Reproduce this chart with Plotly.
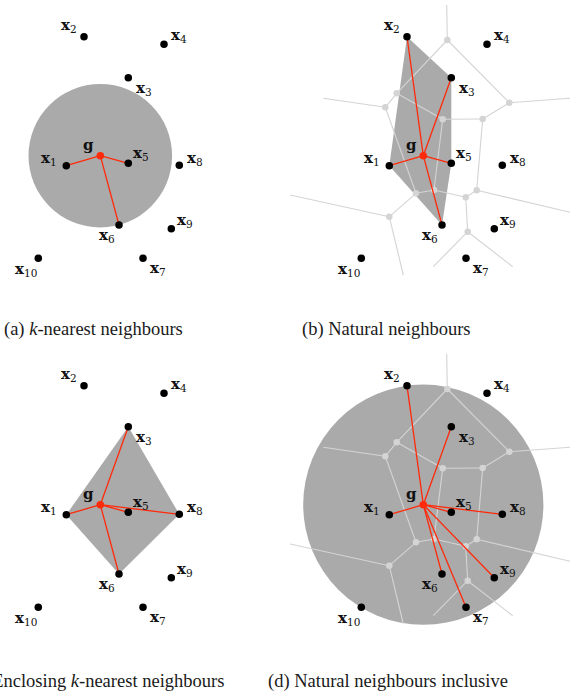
import numpy as np
import plotly.graph_objects as go

# ---------------------------------------------------------------- data
# Sample sites x1..x10 and the query location g (same layout in every panel)
site_names = ["x1", "x2", "x3", "x4", "x5", "x6", "x7", "x8", "x9", "x10"]
site_u = [6.63, 8.40, 12.83, 16.40, 12.83, 11.90, 14.30, 17.93, 17.13, 3.83]
site_v = [11.43, 24.33, 20.23, 23.57, 11.67, 5.50, 2.17, 11.47, 5.13, 2.17]
query_u = 10.03
query_v = 12.43

# Neighbour sets used by each method (1-based site numbers)
knn_set = [1, 5, 6]
natural_set = [1, 2, 3, 5, 6]
enclosing_set = [1, 3, 5, 6, 8]
inclusive_set = [1, 2, 3, 5, 6, 7, 8, 9]

# Voronoi diagram of the sites plus g: finite vertices, then far ends of rays
vor_vert_u = [12.43, 7.37, 6.23, 11.97, 15.97, 18.63, 9.30, 11.10, 14.27, 15.37, 6.63, 14.47]
vor_vert_v = [24.00, 18.67, 17.27, 16.07, 16.10, 17.73, 8.67, 9.00, 8.27, 8.97, 6.33, 4.83]
ray_end_u = [12.37, 0.03, 24.70, -3.30, 24.70, 8.03, 11.03, 18.97]
ray_end_v = [27.50, 18.17, 18.17, 8.50, 6.77, 0.50, 1.33, 1.33]
vor_edges = [(0, 1), (0, 5), (0, 12), (1, 2), (1, 3), (2, 13), (2, 6), (3, 4),
             (3, 7), (4, 5), (4, 9), (5, 14), (6, 7), (6, 10), (7, 8), (8, 9),
             (8, 11), (9, 16), (10, 15), (10, 17), (11, 18), (11, 19)]

captions = ["(a) <i>k</i>-nearest neighbours",
            "(b) Natural neighbours",
            "(c) Enclosing <i>k</i>-nearest neighbours",
            "(d) Natural neighbours inclusive"]

# ---------------------------------------------------------------- style
W, H = 578, 698
S = 10.0                      # pixels per data unit
FILL = "#aaaaaa"
VOR = "#d4d4d4"
RED = "#ff2a0a"
LABEL_FONT = dict(family="DejaVu Serif", size=15, color="#111111")
CAP_FONT = dict(family="Liberation Serif", size=18.5, color="#1a1a1a")

# label offsets in pixels (dx right, dy down)
label_offset = {
    "x1": (-17, -7.5), "x2": (-15.5, -11.5), "x3": (15.5, 10.5), "x4": (15, -9),
    "x5": (12.5, -10), "x6": (-12, 10), "x7": (14.5, 10), "x8": (15.5, -6.5),
    "x9": (13.5, -8), "x10": (-12, 11), "g": (-12, -11),
}

# panel origin (px) and visible box in panel pixels (left, right, top, bottom)
panels = [
    dict(ox=0, oy=0, box=(0, 250, 0, 290)),
    dict(ox=323, oy=0, box=(-33, 247, 4, 277)),
    dict(ox=0, oy=349, box=(0, 250, 0, 290)),
    dict(ox=323, oy=349, box=(-33, 247, 4, 277)),
]
V_BASE = 280.0  # panel pixel row of v = 0

su = np.array(site_u)
sv = np.array(site_v)


def hull(idx):
    """Convex hull (monotone chain) of the given sites, closed."""
    pts = sorted((su[i - 1], sv[i - 1]) for i in idx)

    def cross(o, a, b):
        return (a[0] - o[0]) * (b[1] - o[1]) - (a[1] - o[1]) * (b[0] - o[0])

    lower, upper = [], []
    for p in pts:
        while len(lower) >= 2 and cross(lower[-2], lower[-1], p) <= 0:
            lower.pop()
        lower.append(p)
    for p in reversed(pts):
        while len(upper) >= 2 and cross(upper[-2], upper[-1], p) <= 0:
            upper.pop()
        upper.append(p)
    ring = lower[:-1] + upper[:-1]
    ring.append(ring[0])
    return [p[0] for p in ring], [p[1] for p in ring]


def spokes(idx):
    xs, ys = [], []
    for i in idx:
        xs += [query_u, su[i - 1], None]
        ys += [query_v, sv[i - 1], None]
    return xs, ys


def radius_to(idx):
    return max(np.hypot(su[i - 1] - query_u, sv[i - 1] - query_v) for i in idx)


node_u = vor_vert_u + ray_end_u
node_v = vor_vert_v + ray_end_v
vor_x, vor_y = [], []
for a, b in vor_edges:
    vor_x += [node_u[a], node_u[b], None]
    vor_y += [node_v[a], node_v[b], None]

fig = go.Figure()
layout = dict(width=W, height=H, margin=dict(l=0, r=0, t=0, b=0),
              paper_bgcolor="white", plot_bgcolor="rgba(0,0,0,0)",
              showlegend=False, shapes=[], annotations=[])

panel_spec = [
    dict(set=knn_set, region="circle", voronoi=False),
    dict(set=natural_set, region="hull", voronoi=True),
    dict(set=enclosing_set, region="hull", voronoi=False),
    dict(set=inclusive_set, region="circle", voronoi=True),
]

for k, (pan, spec) in enumerate(zip(panels, panel_spec)):
    n = "" if k == 0 else str(k + 1)
    xa, ya = "x" + n, "y" + n
    l, r, t, b = pan["box"]
    ox, oy = pan["ox"], pan["oy"]
    layout["xaxis" + n] = dict(domain=[(ox + l) / W, (ox + r) / W],
                               range=[l / S, r / S], visible=False,
                               fixedrange=True, anchor=ya)
    layout["yaxis" + n] = dict(domain=[1 - (oy + b) / H, 1 - (oy + t) / H],
                               range=[(V_BASE - b) / S, (V_BASE - t) / S],
                               visible=False, fixedrange=True, anchor=xa)

    # shaded neighbourhood region
    if spec["region"] == "circle":
        rad = radius_to(spec["set"])
        layout["shapes"].append(dict(
            type="circle", xref=xa, yref=ya, layer="below",
            x0=query_u - rad, x1=query_u + rad, y0=query_v - rad, y1=query_v + rad,
            fillcolor=FILL, line=dict(width=0)))
    else:
        hx, hy = hull(spec["set"])
        fig.add_trace(go.Scatter(x=hx, y=hy, mode="lines", fill="toself",
                                 fillcolor=FILL, line=dict(width=0, color=FILL),
                                 hoverinfo="skip", xaxis=xa, yaxis=ya))

    # Voronoi tessellation
    if spec["voronoi"]:
        fig.add_trace(go.Scatter(x=vor_x, y=vor_y, mode="lines",
                                 line=dict(color=VOR, width=1.1),
                                 hoverinfo="skip", xaxis=xa, yaxis=ya))
        fig.add_trace(go.Scatter(x=vor_vert_u, y=vor_vert_v, mode="markers",
                                 marker=dict(color=VOR, size=6.5),
                                 hoverinfo="skip", xaxis=xa, yaxis=ya))

    # links from g to its neighbours
    spx, spy = spokes(spec["set"])
    fig.add_trace(go.Scatter(x=spx, y=spy, mode="lines",
                             line=dict(color=RED, width=1.3),
                             hoverinfo="skip", xaxis=xa, yaxis=ya))

    # sites and query point
    fig.add_trace(go.Scatter(x=site_u, y=site_v, mode="markers",
                             marker=dict(color="black", size=7.5),
                             hoverinfo="skip", xaxis=xa, yaxis=ya))
    fig.add_trace(go.Scatter(x=[query_u], y=[query_v], mode="markers",
                             marker=dict(color=RED, size=7.5),
                             hoverinfo="skip", xaxis=xa, yaxis=ya))

    # labels
    for name, u, v in zip(site_names, site_u, site_v):
        dx, dy = label_offset[name]
        layout["annotations"].append(dict(
            x=u, y=v, xref=xa, yref=ya, showarrow=False,
            text="<b>x</b><sub>%s</sub>" % name[1:], font=LABEL_FONT,
            xshift=dx, yshift=-dy, xanchor="center", yanchor="middle"))
    dx, dy = label_offset["g"]
    layout["annotations"].append(dict(
        x=query_u, y=query_v, xref=xa, yref=ya, showarrow=False,
        text="<b>g</b>", font=LABEL_FONT, xshift=dx, yshift=-dy,
        xanchor="center", yanchor="middle"))

# captions under each panel
cap_pos = [(93.5, 330, "center"), (386, 330, "center"),
           (226, 681, "right"), (388, 681, "center")]
for text, (cx, cy, anchor) in zip(captions, cap_pos):
    layout["annotations"].append(dict(
        x=cx / W, y=1 - cy / H, xref="paper", yref="paper", showarrow=False,
        text=text, font=CAP_FONT, xanchor=anchor, yanchor="middle"))

fig.update_layout(**layout)
fig.write_html("out.html")
